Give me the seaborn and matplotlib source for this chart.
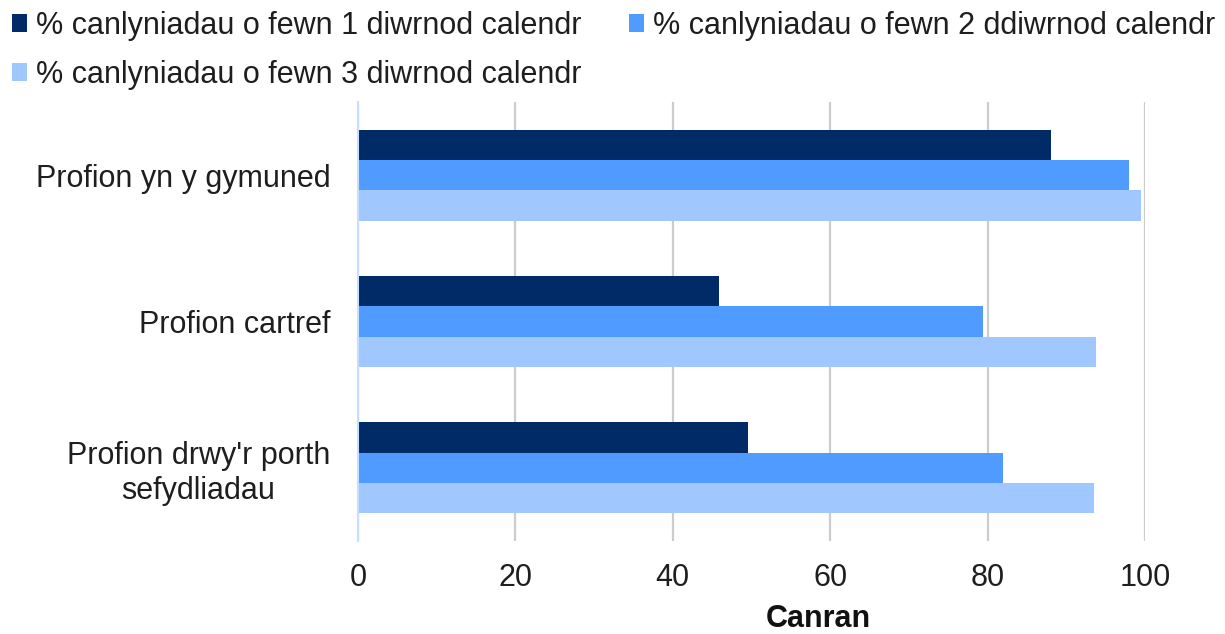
import matplotlib
matplotlib.use("Agg")
import matplotlib.pyplot as plt
import pandas as pd
import seaborn as sns

categories = ["Profion yn y gymuned", "Profion cartref", "Profion drwy'r porth\nsefydliadau"]
series = [
    "% canlyniadau o fewn 1 diwrnod calendr",
    "% canlyniadau o fewn 2 ddiwrnod calendr",
    "% canlyniadau o fewn 3 diwrnod calendr",
]
within_1_day = [88.1, 45.9, 49.5]
within_2_days = [98.0, 79.4, 82.0]
within_3_days = [99.5, 93.8, 93.5]
x_ticks = [0, 20, 40, 60, 80, 100]
colors = ["#002B66", "#4F9BFF", "#A0C8FF"]

rows = []
for name, values in zip(series, [within_1_day, within_2_days, within_3_days]):
    for cat, v in zip(categories, values):
        rows.append({"category": cat, "series": name, "value": v})
df = pd.DataFrame(rows)

sns.set_theme(style="white")
plt.rcParams["font.family"] = ["Liberation Sans", "DejaVu Sans"]
FS = 22
TXT = "#1E1E1E"

fig = plt.figure(figsize=(12.25, 6.34), dpi=100)
ax = fig.add_axes([358 / 1225, 1 - 541 / 634, 787 / 1225, 439 / 634])

sns.barplot(
    data=df, x="value", y="category", hue="series", order=categories,
    hue_order=series, palette=colors, orient="h", width=0.62,
    saturation=1, ax=ax, legend=True, linewidth=0,
)

ax.set_xlim(0, 100)
ax.set_xticks(x_ticks)
ax.xaxis.grid(True, color="#CCCCCC", linewidth=1.6)
ax.set_axisbelow(True)
for s in ["top", "right", "bottom"]:
    ax.spines[s].set_visible(False)
ax.spines["left"].set_color("#C6DEFF")
ax.spines["left"].set_linewidth(1.5)
ax.tick_params(axis="x", length=0, pad=16, labelsize=FS, colors=TXT)
ax.tick_params(axis="y", length=0, pad=20, labelsize=FS, colors=TXT)
for lab in ax.get_yticklabels():
    lab.set_multialignment("center")

ax.set_ylabel("")
ax.set_xlabel("Canran", fontsize=FS, fontweight="bold", color="#111111")
ax.xaxis.set_label_coords(0.585, -0.143)

# legend fills by column, so reorder to get entries 1 and 2 on the first row
handles, labels = ax.get_legend_handles_labels()
ax.legend_.remove()
order = [0, 2, 1]
fig.legend(
    [handles[i] for i in order], [labels[i] for i in order],
    loc="upper left", bbox_to_anchor=(-0.013, 1.026), ncol=2,
    frameon=False, fontsize=FS, handlelength=0.5, handleheight=0.5,
    handletextpad=0.3, columnspacing=1.55, labelspacing=0.62,
    labelcolor=TXT,
)

fig.savefig("out.png", dpi=100)
plt.close(fig)
